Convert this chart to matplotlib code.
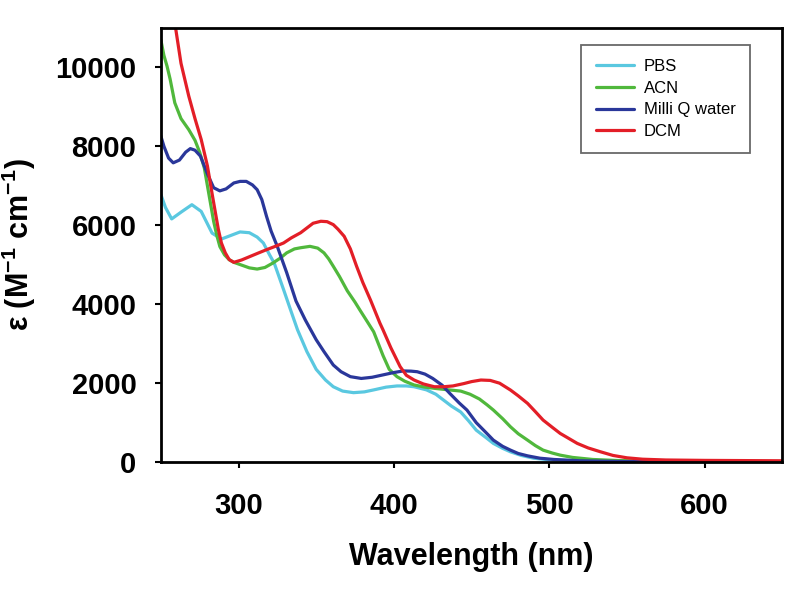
import matplotlib
matplotlib.use("Agg")
import matplotlib.pyplot as plt

plt.rcParams['font.family'] = ['Liberation Sans', 'DejaVu Sans']
plt.rcParams['mathtext.fontset'] = 'custom'
plt.rcParams['mathtext.rm'] = 'Liberation Sans:bold'
plt.rcParams['mathtext.bf'] = 'Liberation Sans:bold'

series_names = ["PBS", "ACN", "Milli Q water", "DCM"]
series_colors = ["#5ac8e0", "#50b83c", "#2a379a", "#e31e27"]

pbs_wl = [250, 253, 257, 263, 270, 276, 283, 289, 295, 301, 307, 312, 316, 320, 323,
          329, 334, 338, 344, 350, 356, 361, 367, 374, 381, 387, 395, 402, 408, 413,
          421, 427, 432, 437, 443, 448, 453, 459, 464, 470, 475, 482, 490, 500, 520,
          550, 600, 650]
pbs_eps = [6780, 6450, 6160, 6330, 6520, 6350, 5800, 5650, 5740, 5830, 5810, 5700, 5550,
           5250, 5040, 4370, 3800, 3350, 2800, 2350, 2080, 1910, 1800, 1760, 1780, 1830,
           1900, 1930, 1930, 1910, 1830, 1720, 1570, 1420, 1270, 1050, 810, 630, 475, 350,
           262, 170, 100, 60, 30, 15, 10, 10]

acn_wl = [250, 252, 254, 256, 259, 263, 268, 272, 275, 278, 280, 282, 284, 286, 288,
          291, 294, 297, 302, 307, 312, 317, 322, 327, 331, 336, 340, 346, 351, 355,
          358, 361, 365, 370, 375, 378, 383, 387, 393, 397, 402, 407, 413, 420, 426,
          433, 438, 443, 449, 455, 460, 464, 470, 475, 480, 486, 491, 496, 502, 507,
          515, 528, 545, 570, 600, 650]
acn_eps = [10700, 10300, 10030, 9700, 9100, 8700, 8420, 8150, 7850, 7450, 7000, 6550,
           6100, 5750, 5460, 5250, 5127, 5060, 4990, 4920, 4890, 4930, 5040, 5170, 5300,
           5400, 5430, 5465, 5420, 5300, 5150, 4960, 4700, 4340, 4050, 3860, 3550, 3300,
           2700, 2350, 2165, 2050, 1954, 1900, 1870, 1840, 1820, 1800, 1720, 1600, 1450,
           1320, 1100, 896, 720, 558, 420, 305, 230, 178, 120, 68, 40, 25, 20, 15]

mq_wl = [250, 252, 255, 258, 262, 266, 269, 272, 275.5, 280, 284, 288, 292, 297, 301,
         305, 309, 312, 315, 318, 321, 325, 331, 337, 343, 350, 355, 361, 366, 372, 379,
         386, 393, 400, 406, 411, 415, 420, 425, 431, 436, 442, 447, 453, 459, 464, 470,
         475, 480, 486, 494, 503, 520, 550, 600, 650]
mq_eps = [8260, 8000, 7700, 7580, 7650, 7850, 7940, 7900, 7750, 7300, 6950, 6870, 6920,
          7070, 7110, 7110, 7020, 6900, 6650, 6230, 5850, 5460, 4800, 4080, 3600, 3100,
          2800, 2460, 2290, 2165, 2120, 2150, 2210, 2270, 2310, 2305, 2290, 2230, 2120,
          1950, 1740, 1500, 1320, 1000, 760, 558, 400, 305, 220, 160, 100, 68, 35, 15, 8, 5]

dcm_wl = [257, 259.3, 263, 268, 272, 276, 280, 283, 285, 287, 289, 291.5, 294, 297, 302,
          307.5, 313, 318, 324, 329, 334, 340, 344, 348, 353, 357, 361, 364, 368, 372,
          376, 380, 385, 391, 393, 398, 404, 408, 413, 419, 426, 432, 438, 445, 450, 456,
          462, 468, 475, 480, 486, 491, 496, 502, 507, 513, 518, 525, 533, 541, 550, 560,
          575, 600, 625, 650]
dcm_eps = [11550, 11050, 10100, 9270, 8700, 8170, 7500, 6800, 6350, 5900, 5550, 5300,
           5130, 5060, 5120, 5210, 5300, 5380, 5470, 5550, 5680, 5810, 5930, 6050, 6100,
           6090, 6015, 5900, 5720, 5400, 4960, 4550, 4100, 3520, 3350, 2900, 2420, 2200,
           2080, 1980, 1910, 1910, 1930, 1990, 2040, 2080, 2070, 2000, 1827, 1680, 1489,
           1280, 1066, 880, 728, 590, 475, 360, 262, 170, 110, 75, 55, 45, 40, 35]

x_ticks = [300, 400, 500, 600]
y_ticks = [0, 2000, 4000, 6000, 8000, 10000]

fig = plt.figure(figsize=(8.0, 5.91), dpi=100)
ax_left, ax_bottom, ax_w, ax_h = 0.201, 0.218, 0.777, 0.735
ax = fig.add_axes([ax_left, ax_bottom, ax_w, ax_h])

data = [(pbs_wl, pbs_eps), (acn_wl, acn_eps), (mq_wl, mq_eps), (dcm_wl, dcm_eps)]
for (wl, eps), name, col in zip(data, series_names, series_colors):
    ax.plot(wl, eps, color=col, lw=2.3, label=name,
            solid_capstyle='round', solid_joinstyle='round')

ax.set_xlim(250, 650)
ax.set_ylim(0, 11000)
ax.set_xticks(x_ticks)
ax.set_yticks(y_ticks)
ax.tick_params(axis='both', direction='out', length=4.5, width=1.5, labelsize=21)
ax.tick_params(axis='x', pad=17)
ax.tick_params(axis='y', pad=13)
for lab in ax.get_xticklabels() + ax.get_yticklabels():
    lab.set_fontweight('bold')
for sp in ax.spines.values():
    sp.set_linewidth(2.0)
    sp.set_color('black')

ax.set_xlabel("Wavelength (nm)", fontsize=22, fontweight='bold', labelpad=16)
ax.set_ylabel(r"ε (M$^{\mathbf{-1}}$ cm$^{\mathbf{-1}}$)", fontsize=22,
              fontweight='bold')
ax.yaxis.set_label_coords((38 - 161) / (ax_w * 800), 0.5)

leg = ax.legend(loc='upper right', bbox_to_anchor=(750 / 800, 1 - 45 / 591),
                bbox_transform=fig.transFigure, borderaxespad=0, fontsize=12,
                frameon=True, fancybox=False, handlelength=2.3, handletextpad=0.6,
                labelspacing=0.4, borderpad=0.85)
leg.get_frame().set_edgecolor('#444444')
leg.get_frame().set_linewidth(1.3)
for line in leg.get_lines():
    line.set_linewidth(2.3)

fig.savefig("out.png", dpi=100)
